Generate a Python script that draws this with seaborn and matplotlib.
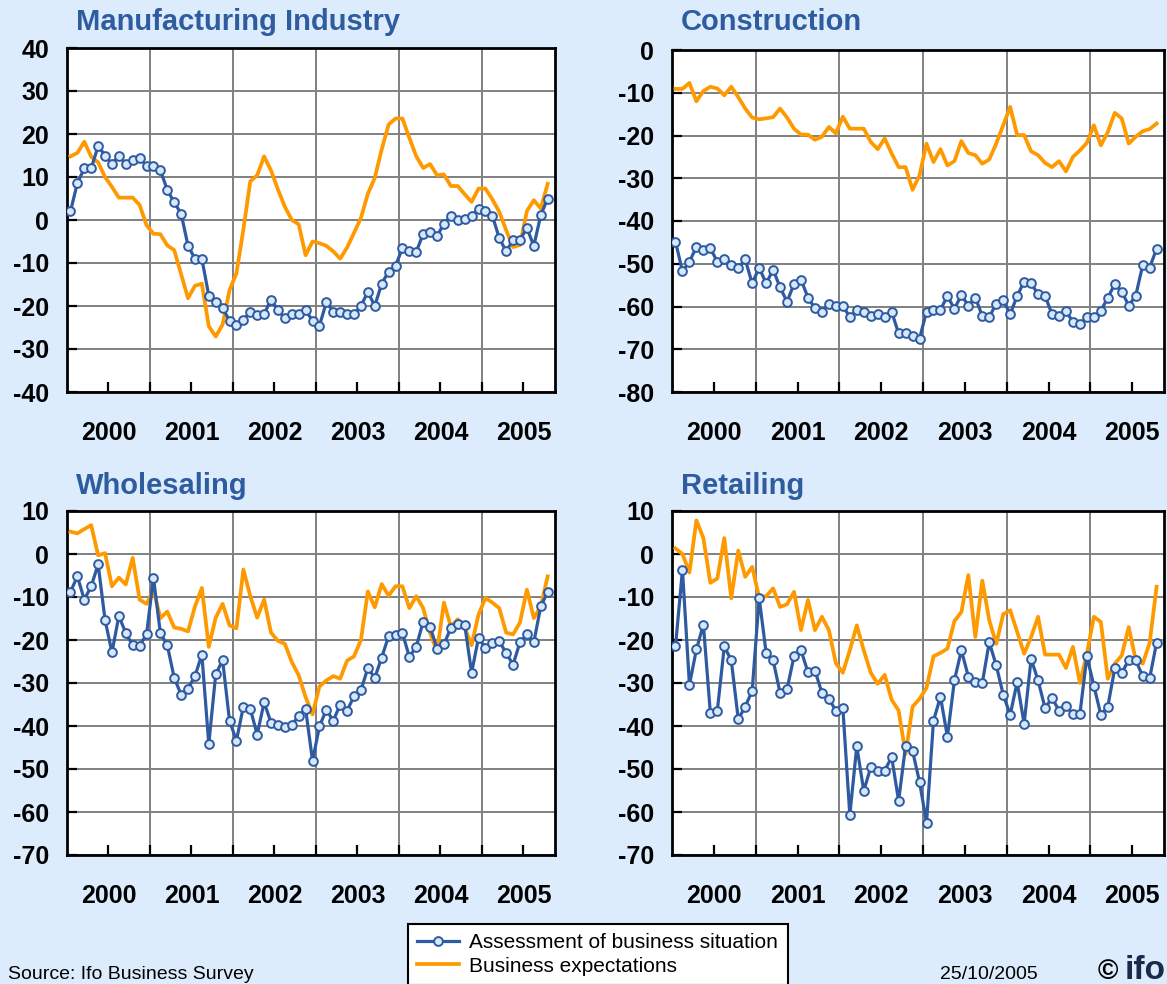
import numpy as np
import pandas as pd
import seaborn as sns
import matplotlib.pyplot as plt
from matplotlib.lines import Line2D

# monthly values, Jan 2000 - Oct 2005
n_months = 70
year_labels = ["2000", "2001", "2002", "2003", "2004", "2005"]

manu_situation = [2, 8.6, 12, 12, 17.2, 15, 13, 15, 13, 14, 14.5, 12.6, 12.6, 11.6, 7, 4.1,
                  1.5, -6, -9, -9, -17.6, -19, -20.5, -23.4, -24.4, -23.3, -21.3, -22.2, -21.9,
                  -18.5, -21, -22.8, -21.9, -21.8, -21, -23.4, -24.6, -19.1, -21.3, -21.3, -21.9,
                  -21.9, -20, -16.7, -20, -14.8, -12, -10.7, -6.5, -7.2, -7.4, -3.2, -2.8, -3.7,
                  -0.9, 1, 0, 0.2, 0.9, 2.6, 2.2, 1, -4.2, -7.3, -4.6, -4.6, -1.9, -6, 1.1, 5]
manu_expect = [14.8, 15.6, 18.2, 14.7, 13.4, 10, 7.7, 5.2, 5.2, 5.2, 3.5, -1.2, -3.2, -3.3,
               -5.9, -7, -12.6, -18.2, -15.3, -14.8, -24.7, -27.1, -24.3, -16.3, -12.4, -2.2,
               9, 10.4, 14.8, 11.5, 7.1, 3.1, 0, -1, -8.2, -5, -5.4, -6, -7.3, -9, -6.4, -3,
               0.5, 6.1, 9.8, 16.4, 22.2, 23.6, 23.6, 19.1, 14.8, 12.1, 13, 10.4, 10.6, 7.9,
               7.9, 6, 4.2, 7.3, 7.3, 4.8, 1.9, -2.4, -6.3, -5.8, 2.1, 4.6, 2.7, 8.4]

cons_situation = [-44.8, -51.8, -49.5, -46.1, -46.7, -46.4, -49.5, -49, -50.4, -51, -49,
                  -54.6, -50.9, -54.6, -51.4, -55.5, -58.9, -54.7, -53.7, -57.9, -60.4, -61.2,
                  -59.3, -59.8, -59.8, -62.5, -60.8, -61.2, -62.2, -61.8, -62.5, -61.2, -66.3,
                  -66.3, -66.8, -67.5, -61.2, -60.8, -60.8, -57.5, -60.6, -57.3, -59.8, -57.9,
                  -62.2, -62.5, -59.3, -58.5, -61.8, -57.5, -54.2, -54.6, -57.1, -57.5, -61.8,
                  -62.3, -61.1, -63.6, -64.1, -62.5, -62.5, -61, -58, -54.7, -56.5, -59.8,
                  -57.5, -50.4, -50.9, -46.5]
cons_expect = [-9.1, -9.1, -7.7, -12, -9.6, -8.6, -9, -10.6, -8.6, -11, -13.7, -15.8, -16.2,
               -16, -15.7, -13.7, -15.8, -18.4, -19.8, -19.8, -21, -20.3, -18, -19.5, -15.6,
               -18.4, -18.4, -18.4, -21.5, -23.2, -20.7, -24.2, -27.4, -27.4, -32.7, -29.3,
               -21.9, -26.2, -23.2, -27, -26, -21.3, -24.1, -24.6, -26.6, -25.6, -21.9, -17.6,
               -13.3, -19.9, -19.9, -23.7, -24.6, -26.4, -27.4, -26, -28.4, -25, -23.5, -21.7,
               -17.6, -22.3, -19.2, -14.7, -16, -21.9, -20.3, -19, -18.5, -17.2]

whol_situation = [-8.8, -5.2, -10.6, -7.5, -2.4, -15.3, -22.9, -14.4, -18.4, -21.2, -21.3,
                  -18.7, -5.5, -18.4, -21.2, -28.8, -32.7, -31.3, -28.4, -23.4, -44.2, -28,
                  -24.7, -38.8, -43.4, -35.5, -36, -42, -34.5, -39.2, -39.7, -40.3, -39.7,
                  -37.7, -36, -48.1, -40.1, -36.2, -38.8, -35, -36.4, -33.1, -31.7, -26.5,
                  -28.8, -24.1, -19.1, -18.8, -18.4, -23.9, -21.6, -15.7, -16.9, -22, -21,
                  -17.2, -16.3, -16.4, -27.6, -19.5, -21.8, -20.8, -20.2, -23.1, -25.7, -20.5,
                  -18.7, -20.5, -12.2, -8.8]
whol_expect = [5.2, 4.8, 5.8, 6.7, -0.3, 0.2, -7.5, -5.5, -7.1, -0.9, -10.6, -11.6, -8.3,
               -14.9, -13.4, -17.1, -17.4, -18, -12.2, -7.9, -21.6, -14.8, -11.6, -16.6,
               -17.3, -3.6, -9.8, -14.8, -10.6, -18.3, -20.2, -20.9, -25.1, -28.2, -33.3,
               -37.3, -30.8, -29.4, -28.4, -29, -24.8, -23.8, -20, -8.7, -12.4, -7, -9.7, -7.5,
               -7.5, -12.6, -9.8, -12.6, -18.4, -22.7, -11.3, -16.9, -15.2, -17.1, -21.2,
               -14.1, -10.2, -11.3, -12.6, -18.3, -18.7, -15.9, -8.3, -14.9, -12.2, -5.2]

reta_situation = [-21.5, -3.7, -30.4, -22.2, -16.4, -37, -36.4, -21.5, -24.7, -38.4, -35.5,
                  -31.8, -10.2, -23, -24.7, -32.3, -31.4, -23.8, -22.4, -27.5, -27.1, -32.3,
                  -33.7, -36.4, -35.8, -60.7, -44.7, -55.1, -49.6, -50.4, -50.4, -47.2, -57.4,
                  -44.6, -45.8, -53, -62.5, -38.8, -33.2, -42.5, -29.4, -22.4, -28.5, -29.8,
                  -30, -20.5, -25.9, -32.7, -37.4, -29.8, -39.5, -24.4, -29.4, -35.8, -33.5,
                  -36.4, -35.4, -37.2, -37.2, -23.8, -30.6, -37.4, -35.5, -26.6, -27.6, -24.7,
                  -24.7, -28.4, -28.9, -20.6]
reta_expect = [1.3, 0, -4.3, 7.8, 3.7, -6.7, -5.7, 3.7, -10.3, 0.8, -5.3, -3, -10.1, -9.8,
               -8, -12.3, -11.7, -8.8, -17.7, -10.7, -17.7, -14.6, -17.7, -25.4, -27.6, -22.4,
               -16.6, -22.4, -27.6, -30.2, -28.1, -33.9, -36.4, -46.5, -35.5, -33.7, -31.1,
               -23.8, -23, -22, -15.6, -13.5, -4.9, -19.3, -6.2, -15.4, -20.9, -14, -13.1,
               -18.1, -23.2, -19.3, -14.6, -23.4, -23.4, -23.4, -26.5, -21.6, -30, -23.2,
               -14.6, -15.8, -29, -25.5, -23.6, -17, -24.6, -25.5, -20.7, -7.6]

BG = "#dcecfd"
BLUE = "#2d5aa0"
ORANGE = "#ff9900"
TITLE_COL = "#2e5c9f"
MARKER_FACE = "#d8e8fb"

plt.rcParams["font.family"] = ["Liberation Sans", "DejaVu Sans"]
plt.rcParams["axes.unicode_minus"] = False

W, H = 1167, 984
fig = plt.figure(figsize=(W / 100, H / 100), dpi=100, facecolor=BG)


def px_axes(left, top, right, bottom):
    return fig.add_axes([left / W, 1 - bottom / H, (right - left) / W, (bottom - top) / H])


xpos = 2000 + (np.arange(n_months) + 0.5) / 12

panels = [
    ("Manufacturing Industry", manu_situation, manu_expect, (-40, 40), (67, 48, 555, 392), (76, 30)),
    ("Construction", cons_situation, cons_expect, (-80, 0), (672, 50, 1164, 392), (681, 30)),
    ("Wholesaling", whol_situation, whol_expect, (-70, 10), (67, 511, 555, 855), (76, 494)),
    ("Retailing", reta_situation, reta_expect, (-70, 10), (672, 511, 1164, 855), (681, 494)),
]

for title, sit, exp, ylim, box, tpos in panels:
    ax = px_axes(*box)
    ax.set_facecolor("white")
    df = pd.DataFrame({"date": xpos, "situation": sit, "expect": exp})

    sns.lineplot(data=df, x="date", y="expect", ax=ax, color=ORANGE, lw=2.7, zorder=3)
    sns.lineplot(data=df, x="date", y="situation", ax=ax, color=BLUE, lw=2.3, marker="o",
                 ms=6.3, mfc=MARKER_FACE, mec=BLUE, mew=1.4, zorder=4)

    ax.set_xlim(2000, 2005.88)
    ax.set_ylim(*ylim)
    ax.set_yticks(np.arange(ylim[0], ylim[1] + 1, 10))
    ax.set_xticks([2000.5 + k for k in range(6)])
    ax.set_xticklabels(year_labels)
    ax.set_xticks(np.arange(2001, 2006), minor=True)
    ax.set_xlabel("")
    ax.set_ylabel("")

    ax.grid(False)
    ax.grid(True, which="minor", axis="x", color="#808080", lw=1.4, zorder=1)
    ax.grid(True, which="major", axis="y", color="#808080", lw=1.4, zorder=1)

    ax.tick_params(axis="both", which="both", direction="in", length=7, width=1.6,
                   color="black", top=False, right=False)
    ax.tick_params(axis="y", labelsize=18, pad=13)
    ax.tick_params(axis="x", labelsize=18, pad=21)
    for lab in ax.get_xticklabels() + ax.get_yticklabels():
        lab.set_fontweight("bold")

    for sp in ax.spines.values():
        sp.set_color("black")
        sp.set_linewidth(2)

    fig.text(tpos[0] / W, 1 - tpos[1] / H, title, color=TITLE_COL, fontsize=21,
             fontweight="bold", va="baseline", ha="left")

handles = [
    Line2D([], [], color=BLUE, lw=2.3, marker="o", ms=6.3, mfc=MARKER_FACE, mec=BLUE, mew=1.4),
    Line2D([], [], color=ORANGE, lw=2.7),
]
labels = ["Assessment of business situation", "Business expectations"]
leg = fig.legend(handles, labels, loc="upper left", bbox_to_anchor=(408 / W, 1 - 924 / H),
                 frameon=True, fancybox=False, edgecolor="black", facecolor="white",
                 framealpha=1, fontsize=15, borderaxespad=0, handlelength=2.0,
                 handletextpad=0.5, borderpad=0.45, labelspacing=0.2)
leg.get_frame().set_linewidth(1.5)

# footer, kept just inside the bottom edge
fig.text(8 / W, 1 - 979 / H, "Source: Ifo Business Survey", fontsize=14, va="baseline", ha="left")
fig.text(940 / W, 1 - 979 / H, "25/10/2005", fontsize=14, va="baseline", ha="left")
fig.text(1098 / W, 1 - 979 / H, "\u00a9", fontsize=20, fontweight="bold", va="baseline", ha="left")
fig.text(1125 / W, 1 - 979 / H, "ifo", fontsize=24, fontweight="bold", color="#1a2a4a",
         va="baseline", ha="left")

fig.savefig("out.png", dpi=100, facecolor=BG)
